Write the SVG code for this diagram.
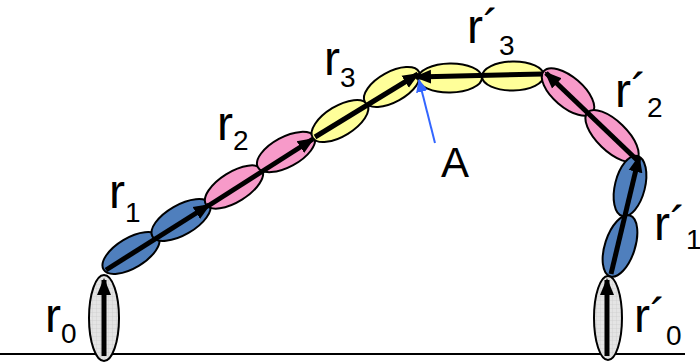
<svg xmlns="http://www.w3.org/2000/svg" width="700" height="362" viewBox="0 0 700 362">
<style>
.e{stroke:#000;stroke-width:2}
.g{fill:url(#grid)}
.b{fill:#4f7fbd}
.p{fill:#f79ac9}
.y{fill:#ffff99}
.a{stroke:#000;stroke-width:5;fill:none;marker-end:url(#ah)}
.t{font-family:"Liberation Sans",Arial,sans-serif;font-size:48px;fill:#000}
.s{font-size:28px}
</style>
<defs>
<pattern id="grid" width="4" height="4" patternUnits="userSpaceOnUse">
<rect width="4" height="4" fill="#e4e4e4"/>
<path d="M0 0H4M0 0V4" stroke="#c4c4c4" stroke-width="0.6"/>
</pattern>
<marker id="ah" markerUnits="userSpaceOnUse" markerWidth="20" markerHeight="18" refX="15" refY="9" orient="auto">
<path d="M0 2L17 9L0 16z" fill="#000"/>
</marker>
<marker id="bh" markerUnits="userSpaceOnUse" markerWidth="14" markerHeight="14" refX="12" refY="7" orient="auto">
<path d="M0 1L13 7L0 13z" fill="#3366ff"/>
</marker>
</defs>
<line x1="0" y1="354" x2="685" y2="354" stroke="#000" stroke-width="2"/>
<g id="r0">
<ellipse class="e g" cx="104" cy="318" rx="15" ry="43"/>
</g>
<g id="r1">
<ellipse class="e b" cx="131" cy="253" rx="32" ry="15" transform="rotate(-31 131 253)"/>
<ellipse class="e b" cx="181" cy="220" rx="33" ry="15" transform="rotate(-30 181 220)"/>
</g>
<g id="r2">
<ellipse class="e p" cx="234" cy="187" rx="33" ry="15" transform="rotate(-32 234 187)"/>
<ellipse class="e p" cx="286" cy="152" rx="32" ry="15" transform="rotate(-28.5 286 152)"/>
</g>
<g id="r3">
<ellipse class="e y" cx="340" cy="121" rx="32" ry="15" transform="rotate(-31.5 340 121)"/>
<ellipse class="e y" cx="392" cy="87" rx="31" ry="15" transform="rotate(-29 392 87)"/>
</g>
<g id="rp3">
<ellipse class="e y" cx="450" cy="78" rx="32" ry="14.5" transform="rotate(-1 450 78)"/>
<ellipse class="e y" cx="513" cy="76" rx="31" ry="14.5" transform="rotate(-1 513 76)"/>
</g>
<g id="rp2">
<ellipse class="e p" cx="568" cy="92" rx="32" ry="15" transform="rotate(40.5 568 92)"/>
<ellipse class="e p" cx="612" cy="136" rx="34" ry="15" transform="rotate(44 612 136)"/>
</g>
<g id="rp1">
<ellipse class="e b" cx="630" cy="186" rx="15" ry="31" transform="rotate(14 630 186)"/>
<ellipse class="e b" cx="620" cy="246" rx="15" ry="32" transform="rotate(18 620 246)"/>
</g>
<g id="rp0">
<ellipse class="e g" cx="608" cy="318" rx="14" ry="42"/>
</g>
<g id="connectors">
<line class="a" x1="104" y1="356" x2="104" y2="280"/>
<line class="a" x1="106" y1="270" x2="209" y2="205"/>
<line class="a" x1="208" y1="206" x2="313" y2="139"/>
<line class="a" x1="315" y1="137" x2="418" y2="74"/>
<line class="a" x1="543" y1="74" x2="416" y2="77"/>
<line class="a" x1="637" y1="160" x2="546" y2="73"/>
<line class="a" x1="611" y1="274" x2="639" y2="157"/>
<line class="a" x1="607" y1="356" x2="607" y2="280"/>
<line x1="435" y1="143" x2="419" y2="80" stroke="#3366ff" stroke-width="2" marker-end="url(#bh)"/>
</g>
<g id="labels">
<text class="t" x="45" y="332">r<tspan class="s" dy="11">0</tspan></text>
<text class="t" x="109" y="208">r<tspan class="s" dy="14">1</tspan></text>
<text class="t" x="217" y="140">r<tspan class="s" dy="10">2</tspan></text>
<text class="t" x="324" y="75">r<tspan class="s" dy="12">3</tspan></text>
<text class="t" x="467" y="43">r´<tspan class="s" dy="12">3</tspan></text>
<text class="t" x="615" y="107">r´<tspan class="s" dy="10">2</tspan></text>
<text class="t" x="654" y="240">r´<tspan class="s" dy="9">1</tspan></text>
<text class="t" x="634" y="332">r´<tspan class="s" dy="13">0</tspan></text>
<text class="t" x="441" y="177" style="font-size:42px">A</text>
</g>
</svg>
